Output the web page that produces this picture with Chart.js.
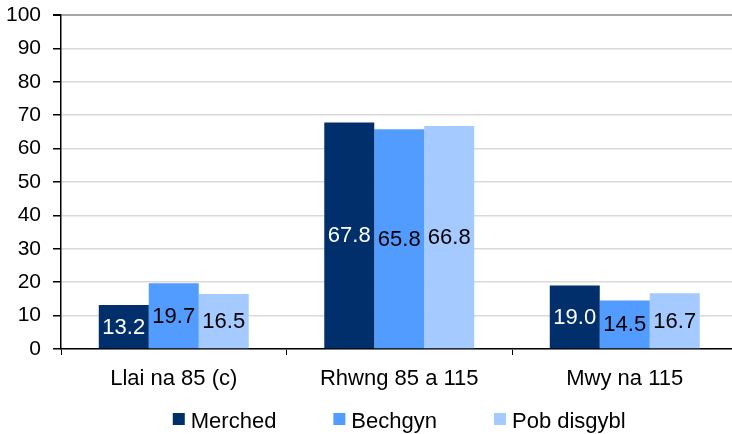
<!DOCTYPE html>
<html>
<head>
<meta charset="utf-8">
<script src="https://cdn.jsdelivr.net/npm/chart.js@4.4.1/dist/chart.umd.min.js"></script>
<style>
  html, body { margin: 0; padding: 0; background: #fff; overflow: hidden; }
  #wrap { position: relative; width: 740px; height: 434px; }
</style>
</head>
<body>
<div id="wrap"><canvas id="c"></canvas></div>
<script>
const categories = ['Llai na 85 (c)', 'Rhwng 85 a 115', 'Mwy na 115'];
const seriesNames = ['Merched', 'Bechgyn', 'Pob disgybl'];
const merched = [13.2, 67.8, 19.0];
const bechgyn = [19.7, 65.8, 14.5];
const pobDisgybl = [16.5, 66.8, 16.7];
const yTicks = [0, 10, 20, 30, 40, 50, 60, 70, 80, 90, 100];

const colors = ['#002f6c', '#529bff', '#a5caff'];
const labelColors = ['#ffffff', '#000000', '#000000'];
const FONT = '"Liberation Sans", Arial, sans-serif';

const valueLabels = {
  id: 'valueLabels',
  afterDatasetsDraw(chart) {
    const ctx = chart.ctx;
    ctx.save();
    ctx.font = '22px ' + FONT;
    ctx.textAlign = 'center';
    ctx.textBaseline = 'middle';
    chart.data.datasets.forEach((ds, i) => {
      const meta = chart.getDatasetMeta(i);
      meta.data.forEach((bar, j) => {
        const p = bar.getProps(['x', 'y', 'base'], true);
        ctx.fillStyle = labelColors[i];
        ctx.fillText(ds.data[j].toFixed(1), p.x, (p.y + p.base) / 2 + 1);
      });
    });
    ctx.restore();
  }
};

const customLegend = {
  id: 'customLegend',
  afterDraw(chart) {
    const ctx = chart.ctx;
    const ca = chart.chartArea;
    ctx.save();
    ctx.font = '22px ' + FONT;
    ctx.textBaseline = 'middle';
    const box = 12, gapText = 6, gapItem = 57;
    const items = chart.data.datasets.map(ds => ({
      label: ds.label, color: ds.backgroundColor, w: ctx.measureText(ds.label).width
    }));
    const total = items.reduce((s, it) => s + box + gapText + it.w, 0) + gapItem * (items.length - 1);
    let x = (ca.left + ca.right) / 2 - total / 2;
    const y = chart.height - 13;
    items.forEach(it => {
      ctx.fillStyle = it.color;
      ctx.fillRect(x, y - 8, box, box);
      ctx.fillStyle = '#000';
      ctx.fillText(it.label, x + box + gapText, y + 1);
      x += box + gapText + it.w + gapItem;
    });
    ctx.restore();
  }
};

new Chart(document.getElementById('c'), {
  type: 'bar',
  data: {
    labels: categories,
    datasets: [
      { label: seriesNames[0], data: merched, backgroundColor: colors[0] },
      { label: seriesNames[1], data: bechgyn, backgroundColor: colors[1] },
      { label: seriesNames[2], data: pobDisgybl, backgroundColor: colors[2] }
    ]
  },
  options: {
    responsive: true,
    maintainAspectRatio: false,
    animation: false,
    layout: { padding: { top: 15, right: 2.5, bottom: 40, left: 0 } },
    datasets: { bar: { categoryPercentage: 0.665, barPercentage: 1.0 } },
    plugins: {
      legend: { display: false },
      tooltip: { enabled: false }
    },
    scales: {
      x: {
        grid: {
          display: true, drawOnChartArea: false, drawTicks: true,
          tickLength: 6, tickColor: '#000', offset: true
        },
        border: { display: true, color: '#000', width: 1.5 },
        ticks: { color: '#000', font: { family: FONT, size: 22 }, padding: 11 },
        afterFit(scale) { scale.height = 45; scale.paddingLeft = 0; scale.paddingRight = 0; }
      },
      y: {
        min: 0, max: 100,
        afterBuildTicks(scale) { scale.ticks = yTicks.map(v => ({ value: v })); },
        grid: {
          color: ctx => (ctx.tick && ctx.tick.value === 100) ? '#a6a6a6' : '#d9d9d9',
          lineWidth: ctx => (ctx.tick && ctx.tick.value === 100) ? 2 : 1.5,
          tickColor: '#000', tickLength: 8, drawTicks: true
        },
        border: { display: true, color: '#000', width: 1.5 },
        ticks: { color: '#000', font: { family: FONT, size: 21 }, padding: 12 },
        afterFit(scale) { scale.width = 61; scale.paddingTop = 0; scale.paddingBottom = 0; }
      }
    }
  },
  plugins: [valueLabels, customLegend]
});
</script>
</body>
</html>
